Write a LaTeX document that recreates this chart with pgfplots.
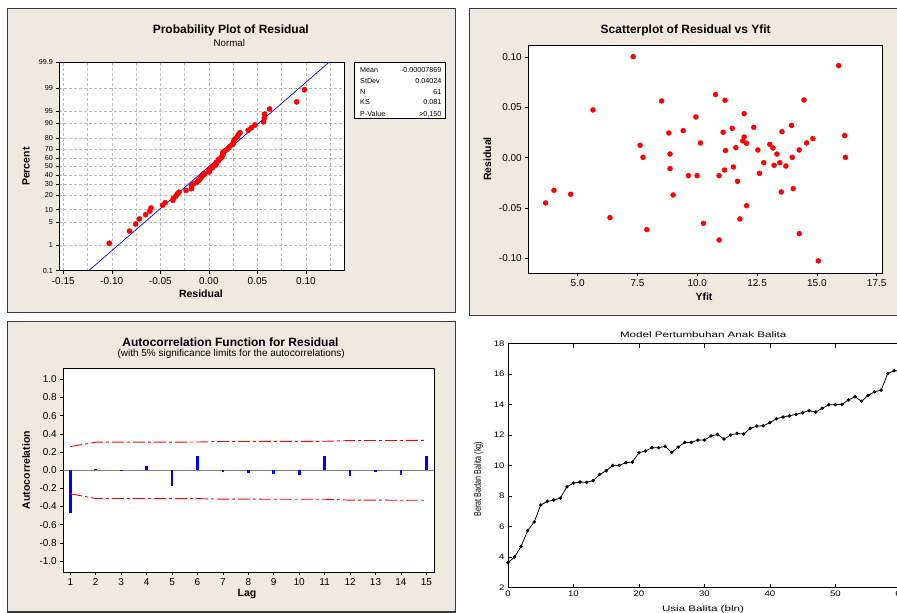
\documentclass[border=0pt]{standalone}
\usepackage{fontspec}
\setmainfont{Liberation Sans}
\usepackage{pgfplots}
\pgfplotsset{compat=1.18}
\definecolor{panelbg}{HTML}{EEEAE0}
\definecolor{panelframe}{HTML}{3A3A3A}
\definecolor{gridgray}{HTML}{BDBDBD}
\newcommand\fs[1]{\fontsize{#1}{#1}\selectfont}
\newcommand\sx[1]{\scalebox{1.2}[1]{#1}}
\pgfplotsset{
  mtb/.style={scale only axis, anchor=south west, axis background/.style={fill=white},
    tick align=outside, tick pos=left, major tick length=3pt, minor tick length=0pt,
    axis line style={line width=0.9pt}, tick style={black, line width=0.6pt},
    ticklabel style={font=\fs{10}},
    label style={font=\bfseries\fs{10.5}},
    xlabel style={anchor=center}, ylabel style={anchor=center},
    /pgf/number format/assume math mode=true},
}
\begin{document}
\begin{tikzpicture}[x=1pt,y=1pt]
\useasboundingbox (0,0) rectangle (897,-613);
\fill[white] (-5,5) rectangle (902,-618);
\filldraw[fill=panelbg,draw=panelframe,line width=1.2pt] (7.5,-8.2) rectangle (455.5,-312.8);
\filldraw[fill=panelbg,draw=panelframe,line width=1.2pt] (469.2,-8.2) rectangle (920,-315.6);
\filldraw[fill=panelbg,draw=panelframe,line width=1.2pt] (7.5,-321.2) rectangle (455.5,-612);

% ---------- probability plot
\node[font=\bfseries\fs{12}] at (230.8,-30) {Probability Plot of Residual};
\node[font=\fs{9.7}] at (229.3,-43.3) {Normal};
\begin{axis}[mtb, at={(59.3pt,-270.7pt)}, width=285pt, height=208.4pt,
  xmin=-0.1541, xmax=0.1395, ymin=-3.0902, ymax=3.0902,
  xtick={-0.15,-0.10,-0.05,0,0.05,0.10},
  xticklabels={-0.15,-0.10,-0.05,0.00,0.05,0.10},
  minor xtick={-0.125,-0.075,-0.025,0.025,0.075,0.125},
  ytick={-3.0902,-2.3263,-1.6449,-1.2816,-0.8416,-0.5244,-0.2533,0,0.2533,0.5244,0.8416,1.2816,1.6449,2.3263,3.0902},
  yticklabels={0.1,1,5,10,20,30,40,50,60,70,80,90,95,99,99.9},
  yticklabel style={font=\fs{7.2}},
  grid=both, major grid style={gridgray, dash pattern=on 3pt off 2pt, line width=0.6pt},
  minor grid style={gridgray, dash pattern=on 3pt off 2pt, line width=0.6pt},
  xlabel={Residual}, ylabel={Percent},
  xlabel style={at={(axis description cs:0.497,-0.112)}},
  ylabel style={at={(axis description cs:-0.1168,0.499)}},
]
\addplot[blue, line width=0.7pt] coordinates {(-0.1238,-3.0902) (0.1237,3.0902)};
\addplot[only marks, mark=*, mark size=2.6pt, red, mark options={draw=red, fill=red}] coordinates {
(-0.1026,-2.277) (-0.0818,-1.916) (-0.0755,-1.706) (-0.0715,-1.553) (-0.0652,-1.429)
(-0.0609,-1.324) (-0.0596,-1.231) (-0.0477,-1.148) (-0.0450,-1.073) (-0.0371,-1.003)
(-0.0364,-0.937) (-0.0341,-0.876) (-0.0325,-0.817) (-0.0308,-0.762) (-0.0235,-0.708)
(-0.0179,-0.657) (-0.0179,-0.607) (-0.0179,-0.558) (-0.0156,-0.511) (-0.0123,-0.465)
(-0.0109,-0.420) (-0.0093,-0.376) (-0.0083,-0.333) (-0.0076,-0.290) (-0.0050,-0.247)
(-0.0050,-0.206) (0.0003,-0.164) (0.0003,-0.123) (0.0003,-0.082) (0.0036,-0.041)
(0.0036,0) (0.0070,0.041) (0.0076,0.082) (0.0076,0.123) (0.0096,0.164)
(0.0099,0.206) (0.0123,0.247) (0.0132,0.290) (0.0142,0.333) (0.0146,0.376)
(0.0146,0.420) (0.0166,0.465) (0.0189,0.511) (0.0205,0.558) (0.0219,0.607)
(0.0245,0.657) (0.0252,0.708) (0.0258,0.762) (0.0268,0.817) (0.0291,0.876)
(0.0301,0.937) (0.0321,1.003) (0.0404,1.073) (0.0437,1.148) (0.0474,1.231)
(0.0563,1.324) (0.0570,1.429) (0.0573,1.553) (0.0626,1.706) (0.0904,1.916)
(0.0985,2.277)};
\end{axis}
\draw[fill=white, line width=0.8pt] (354.3,-62.3) rectangle (445.7,-118.3);
\begin{scope}[every node/.style={font=\fs{7.2}, inner sep=0pt}]
\node[anchor=west] at (360,-69.7) {Mean};    \node[anchor=east] at (441.7,-69.7) {-0.00007869};
\node[anchor=west] at (360,-81.3) {StDev};   \node[anchor=east] at (441.7,-81.3) {0.04024};
\node[anchor=west] at (360,-91.7) {N};       \node[anchor=east] at (441.7,-91.7) {61};
\node[anchor=west] at (360,-102) {KS};       \node[anchor=east] at (441.7,-102) {0.081};
\node[anchor=west] at (360,-114) {P-Value};  \node[anchor=east] at (441.7,-114) {>0,150};
\end{scope}

% ---------- scatterplot
\node[font=\bfseries\fs{12}] at (685.7,-30.7) {Scatterplot of Residual vs Yfit};
\begin{axis}[mtb, at={(528.3pt,-273.3pt)}, width=354.4pt, height=228pt,
  xmin=2.937, xmax=17.75, ymin=-0.1149, ymax=0.1116,
  xtick={5,7.5,10,12.5,15,17.5}, xticklabels={5.0,7.5,10.0,12.5,15.0,17.5},
  ytick={-0.1,-0.05,0,0.05,0.1}, yticklabels={-0.10,-0.05,0.00,0.05,0.10},
  axis line style={line width=1.2pt},
  xlabel={Yfit}, ylabel={Residual},
  xlabel style={at={(axis description cs:0.4958,-0.1026)}},
  ylabel style={at={(axis description cs:-0.1157,0.501)}},
]
\addplot[only marks, mark=*, mark size=2.5pt, red, mark options={draw=red, fill=red}] coordinates {
(3.66,-0.0450) (4.01,-0.0325) (4.71,-0.0364) (5.64,0.0474) (6.35,-0.0596)
(7.32,0.1003) (7.61,0.0123) (7.73,0.0003) (7.89,-0.0715) (8.51,0.0563)
(8.81,0.0245) (8.86,0.0036) (8.86,-0.0109) (8.99,-0.0371) (9.41,0.0268)
(9.63,-0.0179) (9.94,0.0404) (9.99,-0.0179) (10.13,0.0146) (10.26,-0.0652)
(10.76,0.0626) (10.91,-0.0179) (10.91,-0.0818) (11.08,0.0252) (11.14,-0.0123)
(11.16,0.0570) (11.18,0.0070) (11.46,0.0291) (11.51,-0.0093) (11.61,0.0099)
(11.68,-0.0235) (11.78,-0.0609) (11.90,0.0166) (11.96,0.0437) (11.96,0.0205)
(12.06,0.0142) (12.06,-0.0477) (12.36,0.0301) (12.53,0.0076) (12.60,-0.0156)
(12.78,-0.0050) (13.03,0.0132) (13.16,0.0096) (13.21,-0.0076) (13.33,0.0036)
(13.45,-0.0050) (13.51,-0.0341) (13.54,0.0258) (13.70,-0.0083) (13.94,0.0321)
(13.97,0.0003) (14.01,-0.0308) (14.26,0.0076) (14.26,-0.0755) (14.46,0.0573)
(14.57,0.0146) (14.83,0.0189) (15.06,-0.1026) (15.91,0.0914) (16.16,0.0219)
(16.19,0.0003)};
\end{axis}

% ---------- ACF
\node[font=\bfseries\fs{12}] at (230.5,-342) {Autocorrelation Function for Residual};
\node[font=\fs{10}] at (231.2,-354.3) {(with 5\% significance limits for the autocorrelations)};
\begin{axis}[mtb, at={(63.3pt,-572pt)}, width=370.7pt, height=203.3pt,
  xmin=0.725, xmax=15.30, ymin=-1.121, ymax=1.117,
  xtick={1,2,3,4,5,6,7,8,9,10,11,12,13,14,15},
  ytick={-1,-0.8,-0.6,-0.4,-0.2,0,0.2,0.4,0.6,0.8,1},
  yticklabels={-1.0,-0.8,-0.6,-0.4,-0.2,0.0,0.2,0.4,0.6,0.8,1.0},
  xlabel={Lag}, ylabel={Autocorrelation},
  xlabel style={at={(axis description cs:0.4955,-0.1097)}},
  ylabel style={at={(axis description cs:-0.1006,0.5017)}},
]
\addplot[gray, line width=0.8pt] coordinates {(0.725,0) (15.30,0)};
\addplot[ycomb, blue, line width=2.7pt] coordinates {
(1,-0.47) (2,0.012) (3,-0.01) (4,0.045) (5,-0.17) (6,0.155) (7,-0.02) (8,-0.03)
(9,-0.045) (10,-0.055) (11,0.155) (12,-0.06) (13,-0.02) (14,-0.055) (15,0.16)};
\addplot[red, line width=0.9pt, dash pattern=on 12pt off 3pt on 3pt off 3pt] coordinates {
(1,0.26) (2,0.308) (3,0.308) (4,0.308) (5,0.309) (6,0.310) (7,0.316) (8,0.316)
(9,0.317) (10,0.317) (11,0.318) (12,0.326) (13,0.327) (14,0.327) (15,0.328)};
\addplot[red, line width=0.9pt, dash pattern=on 12pt off 3pt on 3pt off 3pt] coordinates {
(1,-0.26) (2,-0.312) (3,-0.312) (4,-0.312) (5,-0.313) (6,-0.313) (7,-0.319) (8,-0.319)
(9,-0.320) (10,-0.320) (11,-0.320) (12,-0.330) (13,-0.330) (14,-0.331) (15,-0.331)};
\end{axis}

% ---------- growth curve
\node[font=\fs{8}] at (703.2,-334.3) {\scalebox{1.45}[1]{Model Pertumbuhan Anak Balita}};
\begin{axis}[scale only axis, anchor=south west, at={(508pt,-587.7pt)}, width=392.8pt, height=244pt,
  xmin=0, xmax=60, ymin=2, ymax=18,
  xtick={0,10,20,30,40,50,60}, xticklabels={\sx{0},\sx{10},\sx{20},\sx{30},\sx{40},\sx{50},\sx{60}},
  ytick={2,4,6,8,10,12,14,16,18},
  yticklabels={\sx{2},\sx{4},\sx{6},\sx{8},\sx{10},\sx{12},\sx{14},\sx{16},\sx{18}},
  tick align=inside, major tick length=4pt, tick style={black, line width=0.6pt},
  axis line style={line width=1pt},
  ticklabel style={font=\fs{8}},
  xlabel={\scalebox{1.45}[1]{Usia Balita (bln)}},
  ylabel={\fs{9.5}\scalebox{0.76}[1]{Berat Badan Balita (kg)}},
  label style={font=\fs{8}, anchor=center},
  xlabel style={at={(axis description cs:0.4964,-0.0873)}},
  ylabel style={at={(axis description cs:-0.0756,0.4447)}},
]
\addplot[black, line width=0.8pt, mark=*, mark size=1.3pt] coordinates {
(0,3.64) (1,4.01) (2,4.71) (3,5.74) (4,6.31) (5,7.42) (6,7.66) (7,7.75) (8,7.88) (9,8.62)
(10,8.86) (11,8.93) (12,8.91) (13,9.02) (14,9.43) (15,9.67) (16,10.02) (17,10.02) (18,10.20) (19,10.24)
(20,10.85) (21,10.96) (22,11.18) (23,11.18) (24,11.27) (25,10.87) (26,11.22) (27,11.53) (28,11.53) (29,11.68)
(30,11.68) (31,11.95) (32,12.05) (33,11.75) (34,12.01) (35,12.12) (36,12.08) (37,12.45) (38,12.60) (39,12.62)
(40,12.82) (41,13.08) (42,13.19) (43,13.28) (44,13.37) (45,13.48) (46,13.61) (47,13.52) (48,13.76) (49,14.00)
(50,14.00) (51,14.02) (52,14.31) (53,14.52) (54,14.22) (55,14.61) (56,14.85) (57,14.96) (58,16.05) (59,16.23)
(60,16.20)};
\end{axis}
\end{tikzpicture}
\end{document}
